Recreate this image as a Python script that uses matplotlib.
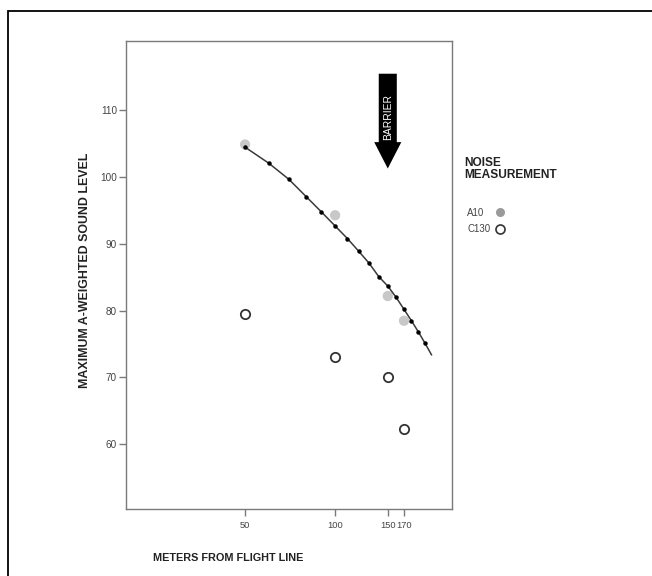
import matplotlib.pyplot as plt
from matplotlib.patches import Rectangle
from matplotlib.ticker import FixedLocator, NullLocator, FixedFormatter

plt.rcParams['font.family'] = ['Liberation Sans', 'DejaVu Sans']

# measured noise levels
distances = [50, 100, 150, 170]
a10_levels = [104.9, 94.3, 82.2, 78.5]
c130_levels = [79.5, 73.0, 70.0, 62.3]

# fitted curve for A10
fit_dist = [50, 60, 70, 80, 90, 100, 110, 120, 130, 140, 150, 160, 170, 180, 190, 200, 210]
fit_level = [104.5, 102.1, 99.7, 97.1, 94.8, 92.7, 90.8, 88.9, 87.1, 85.1, 83.7,
             82.0, 80.2, 78.5, 76.8, 75.1, 73.4]

x_ticks = [50, 100, 150, 170]
y_ticks = [60, 70, 80, 90, 100, 110]

fig = plt.figure(figsize=(6.52, 5.76), dpi=100)
ax = fig.add_axes([0.1933, 0.1163, 0.5, 0.8125])

# outer frame of the figure (only top/left visible)
fig.patches.append(Rectangle((8 / 652, -0.2), 1.5, 1.2 - 11 / 576,
                             transform=fig.transFigure, fill=False,
                             edgecolor='black', linewidth=1.3))

ax.plot(fit_dist[:-1], fit_level[:-1], 'o', color='black', markersize=2.2, zorder=3)
ax.plot(fit_dist, fit_level, '-', color='#3a3a3a', linewidth=1.1, zorder=2)
ax.scatter(distances, a10_levels, s=55, color='#c8c8c8', edgecolors='none', zorder=1)
ax.scatter(distances, c130_levels, s=45, facecolors='white', edgecolors='#333333',
           linewidths=1.3, zorder=3)

ax.set_xscale('log')
ax.set_xlim(20, 246)
ax.set_ylim(50.3, 120.4)
ax.xaxis.set_major_locator(FixedLocator(x_ticks))
ax.xaxis.set_major_formatter(FixedFormatter([str(v) for v in x_ticks]))
ax.xaxis.set_minor_locator(NullLocator())
ax.set_yticks(y_ticks)

for s in ['top', 'right', 'left', 'bottom']:
    ax.spines[s].set_color('#7a7a7a')
    ax.spines[s].set_linewidth(1.0)
ax.tick_params(axis='both', which='major', length=5, width=1.0, color='#7a7a7a',
               labelsize=7.2, labelcolor='#444444')
ax.tick_params(axis='x', pad=3.5, labelsize=6.7)
ax.tick_params(axis='y', pad=1.5)

fig.text(228 / 652, 1 - 558 / 576, 'METERS FROM FLIGHT LINE', ha='center', va='center',
         fontsize=7.8, fontweight='bold', color='#222222')
fig.text(85 / 652, 1 - 270 / 576, 'MAXIMUM A-WEIGHTED SOUND LEVEL', ha='center', va='center',
         rotation=90, fontsize=8.9, fontweight='bold', color='#222222')

# barrier arrow
ax.annotate('', xy=(150, 101.3), xytext=(150, 115.5),
            arrowprops=dict(arrowstyle='simple,head_length=19,head_width=19.5,tail_width=13',
                            mutation_scale=1, color='black', shrinkA=0, shrinkB=0,
                            linewidth=0))
ax.text(150, 109.0, 'BARRIER', rotation=90, ha='center', va='center', color='white',
        fontsize=7.4, zorder=5)

# legend
fig.text(464 / 652, 1 - 157 / 576, 'NOISE\nMEASUREMENT', ha='left', va='top',
         fontsize=8.6, fontweight='bold', color='#222222', linespacing=1.05)
fig.text(467 / 652, 1 - 213 / 576, 'A10', ha='left', va='center', fontsize=7, color='#444444')
fig.text(467 / 652, 1 - 229 / 576, 'C130', ha='left', va='center', fontsize=7, color='#444444')
fig.lines.append(plt.Line2D([500 / 652], [1 - 212 / 576], marker='o', markersize=6.5,
                            color='#9a9a9a', markeredgecolor='none', linestyle='none',
                            transform=fig.transFigure))
fig.lines.append(plt.Line2D([500 / 652], [1 - 229 / 576], marker='o', markersize=6.5,
                            markerfacecolor='white', markeredgecolor='#333333',
                            markeredgewidth=1.2, linestyle='none',
                            transform=fig.transFigure))

fig.savefig('out.png', dpi=100)
